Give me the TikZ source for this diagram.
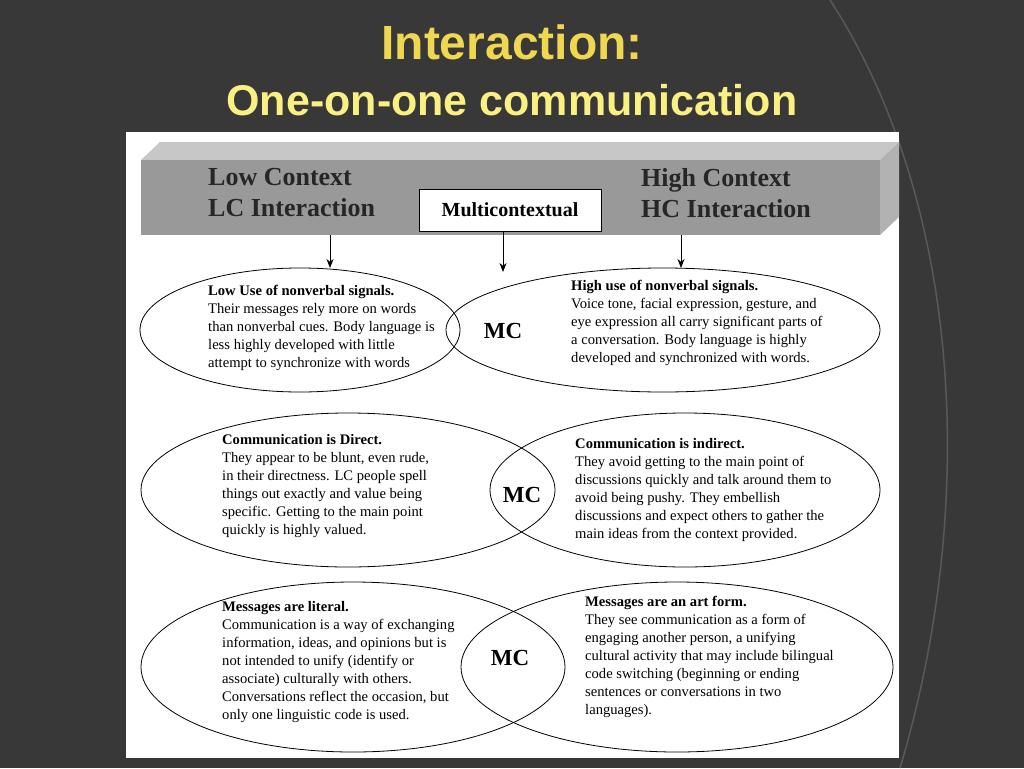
\documentclass[tikz,border=0pt]{standalone}
\usepackage{fontspec}
\setmainfont{Liberation Serif}
\newfontfamily\ttl{Liberation Sans}
\usetikzlibrary{arrows.meta}
\begin{document}
\begin{tikzpicture}[x=1pt,y=-1pt,
 body/.style={anchor=north west,align=left,inner sep=0pt,font=\fontsize{14.6}{18}\selectfont},
 bar/.style={anchor=north west,align=left,inner sep=0pt,font=\fontsize{26}{31}\selectfont\bfseries,text=black!85},
 mc/.style={font=\fontsize{23}{24}\selectfont\bfseries},
 ell/.style={draw=black,thick},
 arr/.style={-{Stealth[length=9pt,width=7pt]},thick}]
\useasboundingbox (0,0) rectangle (1024,768);
\fill[black!78] (0,0) rectangle (1024,768);
\draw[black!65,line width=1.5pt] (830,0) .. controls (960,200) and (980,500) .. (900,768);
\node[font=\ttl\fontsize{48}{52}\selectfont\bfseries,text={rgb,255:red,240;green,215;blue,80}] (t1) at (512,42) {Interaction:};
\node[font=\ttl\fontsize{43}{46}\selectfont\bfseries,text={rgb,255:red,250;green,240;blue,130}] (t2) at (512,100) {One-on-one communication};
\fill[white] (126,132) rectangle (899,758);
% bar
\fill[black!22] (141,160) -- (160,142) -- (899,142) -- (880,160) -- cycle;
\fill[black!40] (141,160) rectangle (880,235);
\fill[black!30] (880,160) -- (899,142) -- (899,217) -- (880,235) -- cycle;
\node[bar] (lc) at (208,168) {Low Context\\LC Interaction};
\node[bar] (hc) at (641,168) {High Context\\HC Interaction};
\node[draw,fill=white,minimum width=182pt,minimum height=42pt,font=\fontsize{20}{22}\selectfont\bfseries] (multi) at (510,210) {Multicontextual};
\coordinate (a1) at (330,235); \coordinate (a3) at (681,235);
% ellipses
\draw[ell] (300,330) ellipse [x radius=160,y radius=62];
\draw[ell] (663,330) ellipse [x radius=217,y radius=62];
\draw[ell] (348,490) ellipse [x radius=207,y radius=77];
\draw[ell] (685,490) ellipse [x radius=195,y radius=77];
\draw[ell] (353,667) ellipse [x radius=212,y radius=85];
\draw[ell] (677,667) ellipse [x radius=216,y radius=85];
\coordinate (e1) at (330,268); \coordinate (e2) at (503,272); \coordinate (e3) at (681,268);
\draw[arr] (a1) -- (e1); \draw[arr] (multi.south -| e2) -- (e2); \draw[arr] (a3) -- (e3);
\node[mc] (mc1) at (503,331) {MC};
\node[mc] (mc2) at (522,495) {MC};
\node[mc] (mc3) at (510,658) {MC};
\node[body] (l1) at (208,285) {\textbf{Low Use of nonverbal signals.}\\Their messages rely more on words\\than nonverbal cues. Body language is\\less highly developed with little\\attempt to synchronize with words};
\node[body] (r1) at (571,280) {\textbf{High use of nonverbal signals.}\\Voice tone, facial expression, gesture, and\\eye expression all carry significant parts of\\a conversation. Body language is highly\\developed and synchronized with words.};
\node[body] (l2) at (222,434) {\textbf{Communication is Direct.}\\They appear to be blunt, even rude,\\in their directness. LC people spell\\things out exactly and value being\\specific. Getting to the main point\\quickly is highly valued.};
\node[body] (r2) at (575,438) {\textbf{Communication is indirect.}\\They avoid getting to the main point of\\discussions quickly and talk around them to\\avoid being pushy. They embellish\\discussions and expect others to gather the\\main ideas from the context provided.};
\node[body] (l3) at (222,601) {\textbf{Messages are literal.}\\Communication is a way of exchanging\\information, ideas, and opinions but is\\not intended to unify (identify or\\associate) culturally with others.\\Conversations reflect the occasion, but\\only one linguistic code is used.};
\node[body] (r3) at (585,596) {\textbf{Messages are an art form.}\\They see communication as a form of\\engaging another person, a unifying\\cultural activity that may include bilingual\\code switching (beginning or ending\\sentences or conversations in two\\languages).};
\end{tikzpicture}
\end{document}
